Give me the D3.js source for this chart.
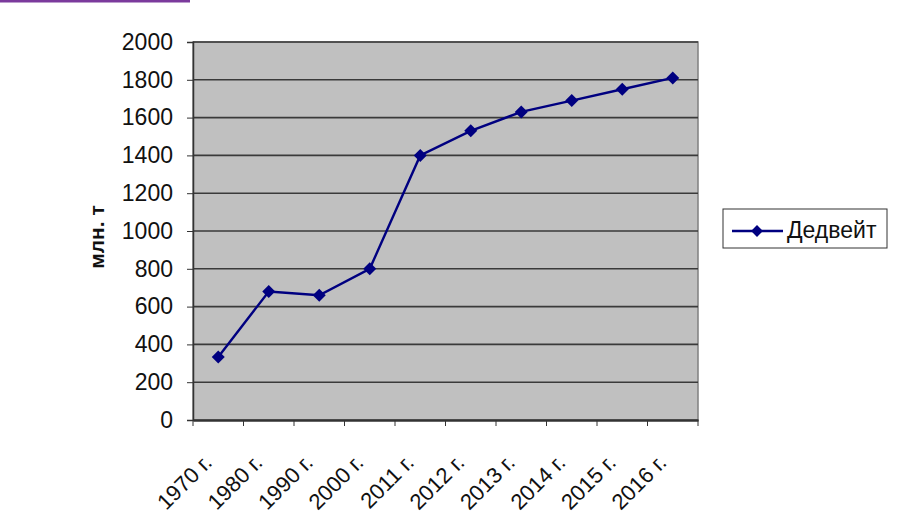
<!DOCTYPE html>
<html><head><meta charset="utf-8">
<script src="https://cdn.jsdelivr.net/npm/d3@7"></script>
<style>body{margin:0;background:#fff;}svg{display:block;font-family:"Liberation Sans",Arial,sans-serif;}</style>
</head><body><svg id="c" width="900" height="519"></svg>
<script>
const categories = ["1970 г.","1980 г.","1990 г.","2000 г.","2011 г.","2012 г.","2013 г.","2014 г.","2015 г.","2016 г."];
const values = [333, 680, 660, 800, 1400, 1530, 1630, 1690, 1750, 1810];
const yTicks = [0,200,400,600,800,1000,1200,1400,1600,1800,2000];
const seriesName = "Дедвейт";
const yLabel = "млн. т";

const svg = d3.select("#c");
const L = 193, R = 698, T = 42, B = 420;
// purple top bar
svg.append("rect").attr("x",0).attr("y",0).attr("width",190).attr("height",2.5).attr("fill","#7b3a9c");

const x = d3.scaleBand().domain(categories).range([L,R]).padding(0);
const y = d3.scaleLinear().domain([0,2000]).range([B,T]);

svg.append("rect").attr("x",L).attr("y",T).attr("width",R-L).attr("height",B-T)
  .attr("fill","#c0c0c0").attr("stroke","#808080").attr("stroke-width",1.5);

svg.append("g").selectAll("line").data(yTicks.filter(d=>d>0)).join("line")
  .attr("x1",L).attr("x2",R).attr("y1",d=>y(d)).attr("y2",d=>y(d))
  .attr("stroke","#3a3a3a").attr("stroke-width",1.6);

const ya = svg.append("g").attr("transform",`translate(${L},0)`)
  .call(d3.axisLeft(y).tickValues(yTicks).tickSize(6).tickPadding(14).tickFormat(d3.format("d")));
ya.select(".domain").attr("stroke","#333").attr("stroke-width",1.5);
ya.selectAll(".tick line").attr("stroke","#333");
ya.selectAll("text").attr("font-size",23).attr("fill","#111").attr("font-family","Liberation Sans, Arial");

const xa = svg.append("g").attr("transform",`translate(0,${B})`)
  .call(d3.axisBottom(x).tickSize(0).tickFormat(""));
xa.select(".domain").attr("stroke","#333").attr("stroke-width",2.5);
// tick marks at category boundaries
const bounds = categories.map(c=>x(c)).concat([R]);
svg.append("g").selectAll("line").data(bounds).join("line")
  .attr("x1",d=>d).attr("x2",d=>d).attr("y1",B).attr("y2",B+6).attr("stroke","#333");

svg.append("g").selectAll("text").data(categories).join("text")
  .attr("transform",d=>`translate(${x(d)+x.bandwidth()/2-5},${B+44}) rotate(-45)`)
  .attr("text-anchor","end").attr("font-size",22).attr("fill","#111").text(d=>d);

svg.append("text").attr("transform","translate(104,237) rotate(-90)")
  .attr("text-anchor","middle").attr("font-size",21).attr("font-weight","bold").attr("fill","#111").text(yLabel);

const pts = categories.map((c,i)=>[x(c)+x.bandwidth()/2, y(values[i])]);
svg.append("path").attr("d",d3.line()(pts)).attr("fill","none").attr("stroke","#000080").attr("stroke-width",2.4);
svg.append("g").selectAll("path").data(pts).join("path")
  .attr("d",d3.symbol().type(d3.symbolSquare).size(85))
  .attr("transform",d=>`translate(${d[0]},${d[1]}) rotate(45)`)
  .attr("fill","#000080");

// legend
const lg = svg.append("g");
lg.append("rect").attr("x",723).attr("y",209).attr("width",164).attr("height",39).attr("fill","#fff").attr("stroke","#333").attr("stroke-width",1);
lg.append("line").attr("x1",732).attr("x2",783).attr("y1",231).attr("y2",231).attr("stroke","#000080").attr("stroke-width",2.4);
lg.append("path").attr("d",d3.symbol().type(d3.symbolSquare).size(70)).attr("transform","translate(757,231) rotate(45)").attr("fill","#000080");
lg.append("text").attr("x",787).attr("y",238).attr("font-size",23).attr("fill","#111").text(seriesName);
</script></body></html>
